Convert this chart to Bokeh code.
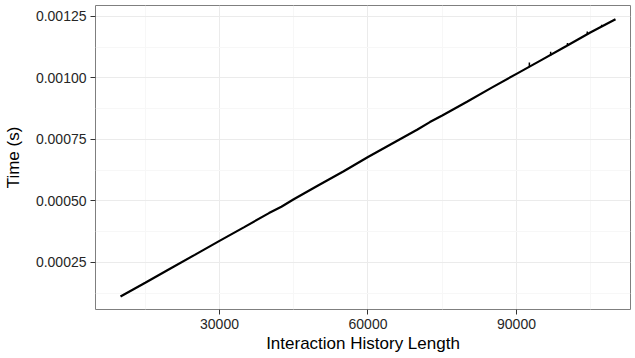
from bokeh.plotting import figure
from bokeh.models import FixedTicker, PrintfTickFormatter, Range1d
from bokeh.embed import file_html
from bokeh.resources import INLINE

# Data
history_length = [10000, 15000, 20000, 25000, 30000, 35000, 40000, 42500, 45000,
                  50000, 55000, 60000, 65000, 70000, 72500, 75000, 80000, 85000,
                  90000, 95000, 100000, 105000, 110000]
time_s = [0.000111, 0.000167, 0.000224, 0.000280, 0.000337, 0.000393, 0.000450,
          0.000476, 0.000506, 0.000563, 0.000619, 0.000678, 0.000734, 0.000790,
          0.000820, 0.000847, 0.000903, 0.000960, 0.001016, 0.001072, 0.001128,
          0.001185, 0.001238]

spike_x = [92600, 96900, 100300, 104300, 107200]
spike_base = [0.001043, 0.001091, 0.001131, 0.001176, 0.001208]
spike_top = [0.001062, 0.001106, 0.001142, 0.001188, 0.001216]

x_major = [30000, 60000, 90000]
x_minor = [15000, 45000, 75000, 105000]
y_major = [0.00025, 0.00050, 0.00075, 0.00100, 0.00125]
y_minor = [0.000125, 0.000375, 0.000625, 0.000875, 0.001125]

FONT = "Liberation Sans"

p = figure(width=633, height=355, output_backend="svg", toolbar_location=None,
           x_range=Range1d(4950, 113030), y_range=Range1d(0.000058, 0.001294),
           min_border_left=95, min_border_right=3, min_border_top=5, min_border_bottom=41)

p.background_fill_color = "white"
p.border_fill_color = "white"
p.outline_line_color = "#7f7f7f"
p.outline_line_width = 1

p.line(history_length, time_s, line_color="black", line_width=2.2)
p.segment(x0=spike_x, y0=spike_base, x1=spike_x, y1=spike_top,
          line_color="black", line_width=1.5)

p.xaxis.ticker = FixedTicker(ticks=x_major, minor_ticks=x_minor)
p.yaxis.ticker = FixedTicker(ticks=y_major, minor_ticks=y_minor)
p.xaxis.formatter = PrintfTickFormatter(format="%d")
p.yaxis.formatter = PrintfTickFormatter(format="%.5f")

for ax in (p.xaxis, p.yaxis):
    ax.axis_line_color = None
    ax.major_tick_in = 0
    ax.major_tick_out = 5
    ax.major_tick_line_color = "#333333"
    ax.minor_tick_line_color = None
    ax.major_label_text_font = FONT
    ax.major_label_text_font_size = "14px"
    ax.major_label_text_color = "#262626"
    ax.axis_label_text_font = FONT
    ax.axis_label_text_font_size = "17px"
    ax.axis_label_text_font_style = "normal"
    ax.axis_label_text_color = "black"

p.xaxis.axis_label = "Interaction History Length"
p.yaxis.axis_label = "Time (s)"
p.xaxis.major_label_standoff = 4
p.xaxis.axis_label_standoff = 2
p.yaxis.major_label_standoff = 4
p.yaxis.axis_label_standoff = 10

p.xgrid.grid_line_color = "#ebebeb"
p.ygrid.grid_line_color = "#ebebeb"
p.xgrid.grid_line_width = 1
p.ygrid.grid_line_width = 1
p.xgrid.minor_grid_line_color = "#f7f7f7"
p.ygrid.minor_grid_line_color = "#f7f7f7"

open("out.html", "w").write(file_html(p, INLINE))
